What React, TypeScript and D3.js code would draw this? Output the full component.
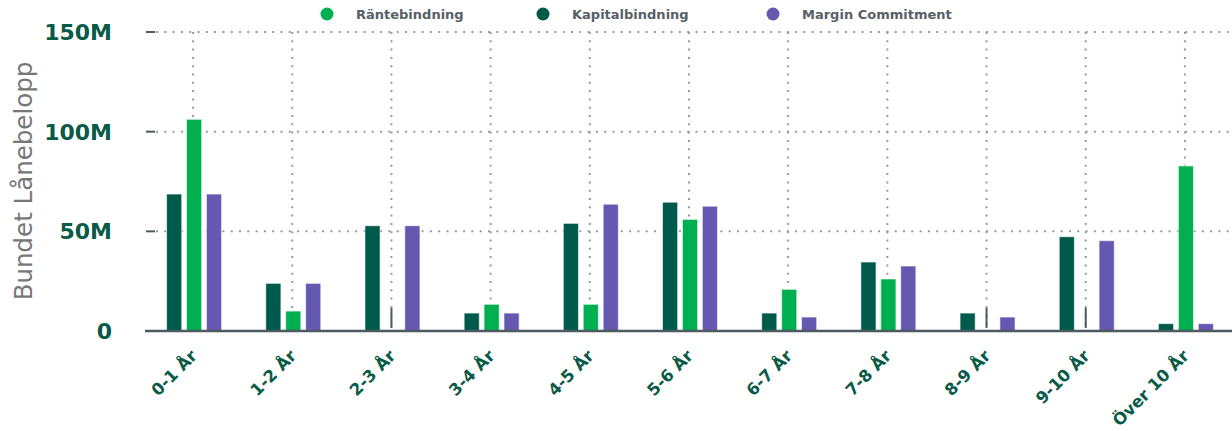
import React from "react";
import * as d3 from "d3";

const categories = ["0-1 År", "1-2 År", "2-3 År", "3-4 År", "4-5 År", "5-6 År", "6-7 År", "7-8 År", "8-9 År", "9-10 År", "Över 10 År"];
const kapitalbindning = [68.7, 23.9, 52.8, 9.0, 54.0, 64.6, 9.0, 34.6, 9.0, 47.3, 3.7];
const rantebindning = [106.2, 10.0, 0, 13.4, 13.4, 56.0, 20.9, 26.1, 0, 0, 82.8];
const marginCommitment = [68.7, 23.9, 52.8, 9.0, 63.6, 62.6, 7.0, 32.6, 7.0, 45.3, 3.7];
const yTicks = [0, 50, 100, 150];
const yTickLabels = ["0", "50M", "100M", "150M"];

const seriesOrder = [
  { key: "Kapitalbindning", values: kapitalbindning, color: "#005a4b" },
  { key: "Räntebindning", values: rantebindning, color: "#00b050" },
  { key: "Margin Commitment", values: marginCommitment, color: "#6558b1" },
];
const legendItems = [
  { key: "Räntebindning", color: "#00b050", x: 327 },
  { key: "Kapitalbindning", color: "#005a4b", x: 543 },
  { key: "Margin Commitment", color: "#6558b1", x: 773 },
];

const W = 1232;
const H = 431;

export default function App() {
  const x = d3.scaleBand<string>().domain(categories).range([143.5, 1234.5]);
  const y = d3.scaleLinear().domain([0, 150]).range([331, 32]);
  const inner = d3
    .scaleBand<string>()
    .domain(seriesOrder.map((s) => s.key))
    .range([-26.5, 28.5])
    .paddingInner(0.24);
  const tickColor = "#0a5a48";
  const axisColor = "#4d5a60";
  const gridColor = "#9a9a9a";

  return (
    <svg width={W} height={H} style={{ position: "absolute", left: 0, top: 0, display: "block" }} fontFamily="DejaVu Sans, Verdana, sans-serif">
      <rect width={W} height={H} fill="#fff" />
      {/* horizontal grid */}
      {yTicks.filter((t) => t > 0).map((t) => (
        <line key={"hg" + t} x1={156} x2={W} y1={y(t)} y2={y(t)} stroke={gridColor} strokeWidth={2} strokeDasharray="2 6.3" />
      ))}
      {/* vertical grid */}
      {categories.map((c) => {
        const cx = (x(c) as number) + x.bandwidth() / 2;
        return <line key={"vg" + c} x1={cx} x2={cx} y1={y(150)} y2={y(0)} stroke={gridColor} strokeWidth={2} strokeDasharray="2 6.3" />;
      })}
      {/* y tick marks and labels */}
      {yTicks.map((t, i) => (
        <g key={"yt" + t}>
          {t > 0 && <line x1={146} x2={155} y1={y(t)} y2={y(t)} stroke={axisColor} strokeWidth={2} />}
          <text x={112} y={y(t)} dy="0.36em" textAnchor="end" fontSize={22} fontWeight="bold" fill={tickColor}>
            {yTickLabels[i]}
          </text>
        </g>
      ))}
      <text transform={`translate(32,${181}) rotate(-90)`} textAnchor="middle" fontSize={24.5} fill="#777">
        Bundet Lånebelopp
      </text>
      {/* bars */}
      {categories.map((c, ci) => {
        const cx = (x(c) as number) + x.bandwidth() / 2;
        return (
          <g key={"bars" + c}>
            {seriesOrder.map((s) => {
              const v = s.values[ci];
              const bx = cx + (inner(s.key) as number);
              if (v === 0) {
                return <line key={s.key} x1={cx} x2={cx} y1={y(0) - 23} y2={y(0) - 3} stroke={axisColor} strokeWidth={2} />;
              }
              return (
                <rect
                  key={s.key}
                  x={bx}
                  y={y(v)}
                  width={inner.bandwidth()}
                  height={y(0) - y(v)}
                  fill={s.color}
                  stroke="rgba(255,255,255,0.6)"
                  strokeWidth={1}
                />
              );
            })}
          </g>
        );
      })}
      {/* x axis line */}
      <line x1={145} x2={W} y1={y(0)} y2={y(0)} stroke={axisColor} strokeWidth={2.5} />
      {/* x labels */}
      {categories.map((c) => {
        const cx = (x(c) as number) + x.bandwidth() / 2;
        return (
          <text key={"xl" + c} transform={`translate(${cx + 5},${357}) rotate(-45)`} textAnchor="end" fontSize={16.5} fontWeight="bold" fill={tickColor}>
            {c}
          </text>
        );
      })}
      {/* legend */}
      {legendItems.map((l) => (
        <g key={"lg" + l.key}>
          <circle cx={l.x} cy={14} r={6.5} fill={l.color} />
          <text x={l.x + 29} y={14} dy="0.36em" fontSize={13} fontWeight="bold" fill="#585f66">
            {l.key}
          </text>
        </g>
      ))}
    </svg>
  );
}
